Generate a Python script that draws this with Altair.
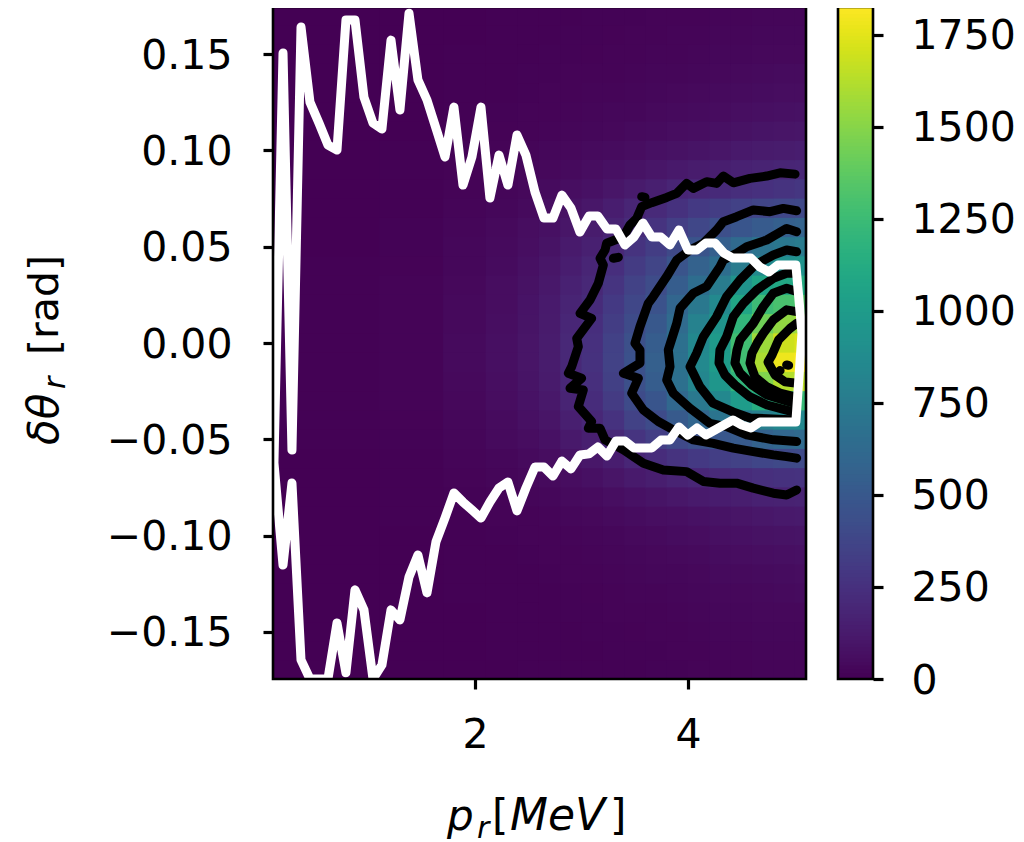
import altair as alt
import pandas as pd

# ---------- heat map: estimated counts ----------
y_rows = [.17,.16,.15,.14,.13,.12,.11,.10,.09,.08,.07,.06,.05,.04,.03,.02,.01,0,
          -.01,-.02,-.03,-.04,-.05,-.06,-.07,-.08,-.09,-.10,-.11,-.12,-.13,-.14,-.15,-.16,-.17]
x_edges = [0.1,1.1,1.7,2.1,2.4,2.6,2.8,3.0,3.2,3.4,3.6,3.8,4.0,4.2,4.4,4.6,4.8,5.0,5.11]
col_06 = [0,0,0,0,0,0,1,1,1,1,2,2,2,3,3,3,4,4,4,4,3,3,3,2,2,1,1,1,1,0,0,0,0,0,0]
col_14 = [1,1,1,1,2,2,2,3,4,5,6,8,9,11,12,13,14,15,15,14,13,11,9,7,5,4,3,2,2,1,1,1,1,1,0]
col_19 = [2,2,3,3,4,5,6,8,11,14,18,22,26,30,33,36,38,40,40,38,34,29,24,19,14,10,7,5,4,3,3,2,2,2,1]
col_225 = [3,4,5,6,7,9,11,14,18,24,30,36,42,48,54,58,62,65,65,62,56,48,40,30,22,16,12,9,7,5,4,4,3,3,2]
col_25 = [4,5,6,8,9,12,15,20,26,34,44,54,62,72,80,86,90,94,95,90,82,70,58,44,32,23,16,12,9,7,6,5,4,3,3]
col_27 = [5,6,8,9,12,15,19,26,34,46,60,72,85,100,110,120,125,130,130,125,112,95,78,58,42,30,21,15,12,9,7,6,5,4,3]
col_29 = [7,8,9,12,14,18,24,32,44,60,80,100,120,140,160,175,190,198,200,195,175,150,115,85,58,40,27,20,15,12,9,8,6,5,4]
col_31 = [8,9,11,14,17,22,28,40,56,78,105,130,155,180,200,220,240,250,255,245,225,195,150,105,72,48,33,24,18,14,11,9,8,6,5]
col_33 = [9,11,13,16,20,26,34,48,70,100,140,170,200,240,270,300,325,345,350,340,310,260,200,140,95,62,42,30,23,18,14,12,9,8,6]
col_35 = [10,13,15,19,24,30,40,58,85,125,180,220,265,310,350,385,410,440,450,440,405,350,270,190,120,78,50,36,28,22,17,14,11,9,7]
col_37 = [12,15,18,22,28,36,48,70,100,150,210,265,320,370,415,460,500,530,545,530,480,410,330,225,145,90,60,42,32,26,20,16,13,10,8]
col_39 = [14,17,20,25,32,42,55,80,115,180,255,330,395,470,530,590,630,670,680,670,610,510,395,265,170,105,68,50,38,30,24,20,15,12,10]
col_41 = [16,20,24,28,36,46,62,90,130,200,300,385,470,560,650,730,800,850,860,830,730,590,440,300,190,120,75,58,44,35,28,23,18,15,12]
col_43 = [18,22,26,32,40,52,70,100,145,215,320,430,540,650,760,860,940,990,1000,960,850,700,490,330,210,135,85,65,50,40,32,26,22,18,14]
col_45 = [20,24,30,36,46,60,80,115,160,235,345,480,620,760,930,1080,1200,1270,1270,1200,1000,730,510,350,225,145,95,72,55,44,35,28,24,20,16]
col_47 = [22,26,32,40,50,65,90,125,170,250,370,520,690,860,1060,1250,1430,1560,1600,1480,1130,780,560,380,245,160,105,80,60,48,38,32,26,22,18]
col_49 = [25,30,35,45,55,70,95,130,180,265,385,550,720,900,1090,1300,1530,1690,1780,1620,1210,840,600,395,255,165,115,85,65,50,40,35,30,25,20]
col_505 = [25,30,35,45,55,75,100,140,190,280,390,570,750,930,1120,1340,1570,1730,1820,1640,1230,850,620,400,260,170,120,90,70,55,45,35,30,25,20]
heat_columns = [col_06,col_14,col_19,col_225,col_25,col_27,col_29,col_31,col_33,col_35,col_37,
                col_39,col_41,col_43,col_45,col_47,col_49,col_505]

# ---------- white closed band ----------
band_x = [.112,.197,.281,.366,.450,.535,.619,.704,.788,.873,.957,1.042,1.126,1.211,1.295,1.380,1.464,
          1.549,1.633,1.718,1.802,1.887,1.971,2.056,2.140,2.225,2.309,2.394,2.478,2.563,2.647,2.732,
          2.816,2.901,2.985,3.070,3.154,3.239,3.323,3.408,3.492,3.577,3.661,3.746,3.830,3.915,3.999,
          4.084,4.168,4.253,4.337,4.422,4.506,4.591,4.675,4.760,4.844,4.929,5.013]
band_upper = [-.0623,.1506,-.0556,.1641,.1251,.1142,.1028,.1002,.1677,.1677,.1277,.1142,.1111,.1573,.1210,
              .1713,.1366,.1262,.1116,.0966,.1225,.0820,.0966,.1225,.0753,.0976,.0820,.1080,.0976,.0784,
              .0649,.0649,.0768,.0701,.0576,.0659,.0659,.0592,.0592,.0509,.0550,.0623,.0550,.0550,.0509,
              .0587,.0483,.0483,.0519,.0519,.0467,.0441,.0441,.0441,.0395,.0369,.0405,.0405,.0405]
band_lower = [-.0623,-.1153,-.0727,-.1646,-.1745,-.1745,-.1745,-.1454,-.1713,-.1282,-.1386,-.1745,-.1672,
              -.1386,-.1438,-.1215,-.1101,-.1298,-.1033,-.0909,-.0779,-.0826,-.0867,-.0909,-.0826,-.0753,
              -.0722,-.0872,-.0753,-.0644,-.0644,-.0691,-.0613,-.0654,-.0582,-.0576,-.0540,-.0587,-.0509,
              -.0509,-.0545,-.0545,-.0545,-.0504,-.0504,-.0436,-.0478,-.0441,-.0478,-.0452,-.0426,-.0400,
              -.0426,-.0441,-.0410,-.0410,-.0410,-.0410,-.0410]
band_tip_x = [5.07]
band_tip_y = [.005]

# ---------- black contours ----------
c200_x = [5.005,4.864,4.739,4.582,4.426,4.332,4.269,4.175,4.050,3.987,3.940,3.894,3.800,3.659,3.565,3.518,3.455,3.393,3.236,3.221,3.174,3.205,3.158,3.080,2.986,3.095,2.955,2.970,2.908,2.876,3.001,2.892,3.017,2.970,3.095,3.064,3.174,3.221,3.393,3.581,3.768,3.987,4.144,4.300,4.457,4.613,4.801,4.926,5.020]
c200_y = [.0877,.0884,.0867,.0855,.0832,.0867,.0829,.0838,.0803,.0829,.0803,.0777,.0756,.0729,.0708,.0647,.0613,.0552,.0518,.0483,.0440,.0405,.0310,.0223,.0154,.0128,.0024,-.0019,-.0123,-.0157,-.0183,-.0235,-.0244,-.0330,-.0408,-.0443,-.0443,-.0503,-.0555,-.0624,-.0659,-.0668,-.0719,-.0728,-.0728,-.0754,-.0780,-.0789,-.0763]
c400_x = [5.020,4.895,4.770,4.613,4.457,4.332,4.269,4.144,4.019,3.894,3.800,3.674,3.627,3.549,3.502,3.549,3.549,3.393,3.534,3.471,3.581,3.721,3.862,4.050,4.238,4.426,4.613,4.801,4.926,5.020]
c400_y = [.0687,.0699,.0682,.0691,.0656,.0630,.0587,.0518,.0483,.0431,.0345,.0241,.0206,.0085,-.0002,-.0036,-.0105,-.0157,-.0183,-.0261,-.0348,-.0408,-.0451,-.0503,-.0521,-.0546,-.0564,-.0581,-.0590,-.0598]
c600_x = [5.020,4.926,4.739,4.551,4.457,4.332,4.300,4.175,4.050,3.925,3.894,3.815,3.831,3.800,3.862,4.019,4.206,4.363,4.551,4.801,5.020]
c600_y = [.0578,.0595,.0535,.0500,.0466,.0431,.0396,.0293,.0258,.0180,.0102,-.0036,-.0123,-.0192,-.0261,-.0339,-.0417,-.0434,-.0477,-.0503,-.0512]
c800_x = [5.020,4.926,4.801,4.629,4.488,4.363,4.269,4.144,4.081,4.019,4.113,4.235,4.423,4.582,5.005]
c800_y = [.0474,.0483,.0457,.0405,.0327,.0241,.0137,.0033,-.0053,-.0123,-.0228,-.0312,-.0358,-.0389,-.0400]
c1000_x = [5.005,4.926,4.801,4.645,4.520,4.426,4.363,4.300,4.291,4.347,4.441,4.582,4.742,4.986]
c1000_y = [.0362,.0362,.0336,.0275,.0206,.0137,.0033,-.0036,-.0104,-.0166,-.0218,-.0280,-.0322,-.0358]
c1200_x = [5.020,4.926,4.801,4.707,4.613,4.488,4.460,4.441,4.488,4.601,4.742,4.986]
c1200_y = [.0267,.0284,.0258,.0189,.0102,.0016,-.0036,-.0104,-.0156,-.0218,-.0270,-.0312]
c1400_x = [5.020,4.926,4.801,4.707,4.650,4.601,4.582,4.629,4.742,4.864,5.005]
c1400_y = [.0163,.0172,.0120,.0050,.0000,-.0052,-.0104,-.0177,-.0228,-.0260,-.0280]
c1600_x = [5.020,4.958,4.850,4.789,4.751,4.817,4.911,5.005]
c1600_y = [.0102,.0076,.0016,-.0062,-.0099,-.0166,-.0202,-.0208]
isl1_x = [3.565,3.596]; isl1_y = [.0760,.0756]
isl2_x = [3.299,3.346]; isl2_y = [.0440,.0445]
isl3_x = [4.926,4.945]; isl3_y = [-.0114,-.0116]
isl4_x = [4.830,4.865]; isl4_y = [-.0161,-.0143]

x_ticks = [2, 4]
y_ticks = [-.15,-.10,-.05,0,.05,.10,.15]
cbar_ticks = [0,250,500,750,1000,1250,1500,1750]
cbar_max = 1825
cbar_levels = list(range(0, 1825, 10))

FONT = "DejaVu Sans"
FS = 41
xs = alt.Scale(domain=[.103, 5.108], nice=False, zero=False)
ys = alt.Scale(domain=[-.1745, .1745], nice=False, zero=False)
cs = alt.Scale(scheme="viridis", domain=[0, cbar_max])

# tables
rows = []
for j, col in enumerate(heat_columns):
    for yc, v in zip(y_rows, col):
        rows.append(dict(x0=x_edges[j], x1=x_edges[j+1]+.015, y0=yc-.0058, y1=yc+.005, v=v))
heat_df = pd.DataFrame(rows)

line_rows = []
series = [("c200",c200_x,c200_y),("c400",c400_x,c400_y),("c600",c600_x,c600_y),("c800",c800_x,c800_y),
          ("c1000",c1000_x,c1000_y),("c1200",c1200_x,c1200_y),("c1400",c1400_x,c1400_y),("c1600",c1600_x,c1600_y),
          ("i1",isl1_x,isl1_y),("i2",isl2_x,isl2_y),("i3",isl3_x,isl3_y),("i4",isl4_x,isl4_y)]
for name, sx, sy in series:
    for i, (a, b) in enumerate(zip(sx, sy)):
        line_rows.append(dict(s=name, i=i, x=a, y=b))
line_df = pd.DataFrame(line_rows)

bx = band_x + band_tip_x + band_x[::-1]
by = band_upper + band_tip_y + band_lower[::-1]
band_df = pd.DataFrame(dict(i=range(len(bx)), x=bx, y=by))

cbar_df = pd.DataFrame(dict(v=cbar_levels, lo=[max(a-4, 0) for a in cbar_levels], v2=[a+10 for a in cbar_levels]))

axis_common = dict(grid=False, domain=False, labelFont=FONT, labelFontSize=FS, labelColor="black",
                   tickColor="black", tickWidth=3.2, tickSize=10, labelFlush=False, labelOverlap=False)

heat = alt.Chart(heat_df).mark_rect(clip=True).encode(
    x=alt.X("x0:Q", scale=xs, title=None, axis=alt.Axis(values=x_ticks, format="d", labelPadding=26, **axis_common)),
    x2="x1:Q",
    y=alt.Y("y0:Q", scale=ys, title=None, axis=alt.Axis(values=y_ticks, format=".2f", labelPadding=31, labelOffset=2, **axis_common)),
    y2="y1:Q",
    color=alt.Color("v:Q", scale=cs, legend=None),
)

contours = alt.Chart(line_df).mark_line(clip=True, color="black", strokeWidth=9, strokeCap="round", strokeJoin="round").encode(
    x=alt.X("x:Q", scale=xs, title=None),
    y=alt.Y("y:Q", scale=ys, title=None),
    detail="s:N",
    order="i:Q",
)

band = alt.Chart(band_df).mark_line(clip=True, color="white", strokeWidth=9, strokeCap="round", strokeJoin="round").encode(
    x=alt.X("x:Q", scale=xs, title=None),
    y=alt.Y("y:Q", scale=ys, title=None),
    order="i:Q",
)

blank = alt.Data(values=[{}])
def txt(s, px, py, size=42, style="normal", angle=0):
    return alt.Chart(blank).mark_text(text=s, font=FONT, fontSize=size, fontStyle=style, angle=angle,
                                      align="left", baseline="alphabetic", color="black", clip=False).encode(
        x=alt.value(px), y=alt.value(py))

texts = [
    txt("δθ", -215, 438, style="italic", angle=270),
    txt("r", -208, 382, size=30, style="italic", angle=270),
    txt("[rad]", -215, 348, size=41, angle=270),
    txt("p", 174, 823, style="italic"),
    txt("r", 204, 831, size=30, style="italic"),
    txt("[", 219, 823),
    txt("MeV", 237, 823, size=44, style="italic"),
    txt("]", 337, 823),
]

main = alt.layer(heat, contours, band, *texts)

cbar_y = alt.Scale(domain=[0, cbar_max], nice=False, zero=False)
cbar = alt.Chart(cbar_df).mark_rect().encode(
    x=alt.value(565), x2=alt.value(600),
    y=alt.Y("lo:Q", scale=cbar_y, title=None,
            axis=alt.Axis(orient="right", offset=67, values=cbar_ticks, format="d", labelPadding=28, labelOffset=2, **axis_common)),
    y2="v2:Q",
    color=alt.Color("v:Q", scale=cs, legend=None),
)
cbar_frame = alt.Chart(blank).mark_rect(fillOpacity=0, stroke="black", strokeWidth=2.6).encode(
    x=alt.value(565), x2=alt.value(600), y=alt.value(0), y2=alt.value(672))
frame = alt.Chart(blank).mark_rect(fillOpacity=0, stroke="black", strokeWidth=2.6).encode(
    x=alt.value(0), x2=alt.value(533), y=alt.value(0), y2=alt.value(672))

chart = alt.layer(main, alt.layer(cbar, cbar_frame, frame)).resolve_scale(y="independent").resolve_axis(y="independent").properties(
    width=533, height=672,
    padding={"left": 265, "top": -1, "right": 210, "bottom": 168},
    autosize=alt.AutoSizeParams(type="none"),
).configure_view(stroke=None)

chart.save("out.html", embed_options={"renderer": "svg", "actions": False})
